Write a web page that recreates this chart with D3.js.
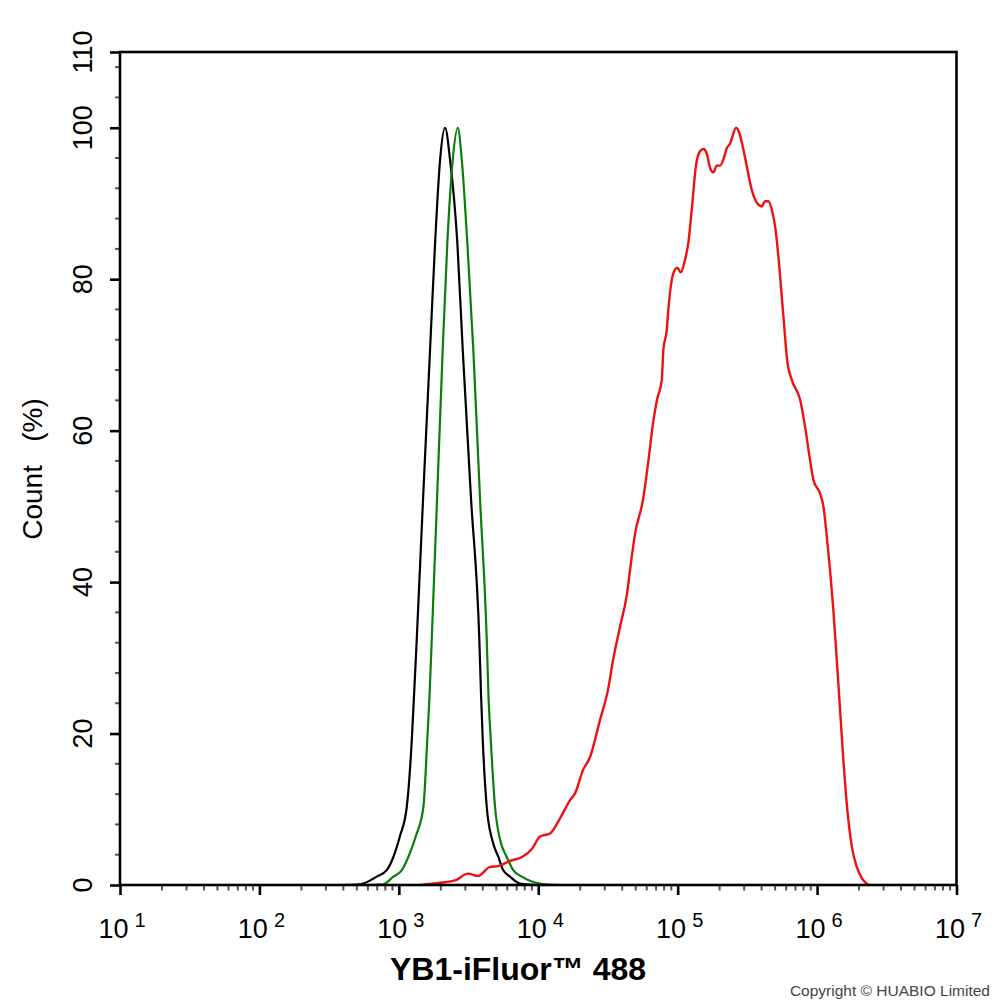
<!DOCTYPE html>
<html>
<head>
<meta charset="utf-8">
<script src="https://cdn.jsdelivr.net/npm/d3@7/dist/d3.min.js"></script>
<style>
  html, body { margin: 0; padding: 0; background: #fff; }
  svg { display: block; }
  text { font-family: Arial, "Liberation Sans", Helvetica, sans-serif; }
</style>
</head>
<body>
<svg id="chart" width="994" height="1002"></svg>
<script>
// ---- Data ----
const blackX = [379, 527, 693, 822, 914, 1020, 1140, 1239, 1285, 1344, 1492, 1675, 1820, 1977, 2145, 2329, 2628, 2872, 3296, 3779, 3890, 3998, 4272, 4667, 5177, 5585, 6280, 7400, 10300];
const blackY = [0, 0.1, 1.1, 2.0, 3.7, 6.5, 10.3, 19.2, 25, 32.4, 51, 70.7, 84.8, 95.8, 100, 95.8, 84.8, 70.7, 51, 32.4, 25, 19.2, 10.3, 6, 3.7, 2, 1.1, 0.2, 0];

const greenX = [527, 771, 914, 1055, 1170, 1327, 1500, 1600, 1660, 1722, 1880, 2064, 2228, 2437, 2648, 2827, 3099, 3421, 3822, 4272, 4395, 4564, 4898, 5321, 5943, 6592, 7621, 10300, 14320];
const greenY = [0, 0.1, 1.1, 2.0, 3.7, 6.5, 10.3, 19.2, 25, 32.4, 51, 70.7, 84.8, 95.8, 100, 95.8, 84.8, 70.7, 51, 32.4, 25, 19.2, 10.3, 6, 3.7, 2, 1.1, 0.2, 0];

const redX = [1420, 1980, 2530, 3140, 3700, 4510, 5150, 6280, 7650, 9030, 10300, 12150, 14330, 16910, 18370, 20960, 23530, 27750, 31670, 34400, 38620, 43350, 45550, 49490, 56460, 61350, 66600, 71160, 76910, 78980, 83520, 85760, 93160, 99520, 105250, 113000, 119300, 126200, 135500, 144800, 152900, 161700, 170800, 180400, 190800, 201500, 212800, 225000, 237600, 262400, 277100, 293100, 313100, 340100, 369400, 401100, 423600, 447400, 473200, 499700, 527800, 558200, 589300, 609200, 658500, 755100, 820300, 890700, 940800, 1051000, 1110000, 1174000, 1240000, 1309000, 1385000, 1462000, 1544000, 1649000, 1774000, 1927000, 2093000, 2333000];
const redY = [0, 0.3, 0.6, 1.5, 1.2, 2.4, 2.5, 3.2, 3.7, 4.8, 6.4, 6.8, 8.8, 11.2, 12.1, 15.2, 16.9, 21.8, 25.8, 29.7, 34.1, 38.5, 41.6, 46.4, 50.9, 55.7, 61.0, 64.1, 66.7, 70.7, 73.3, 76.0, 80.8, 81.5, 80.9, 82.6, 84.8, 89.2, 95.1, 96.9, 97.2, 96.6, 94.7, 94.1, 95.0, 95.0, 95.8, 97.3, 97.9, 100, 99.3, 97.5, 94.9, 91.8, 90.1, 89.6, 90.3, 90.3, 89.2, 87.0, 83.0, 77.7, 72.4, 69.4, 66.7, 64.1, 60.5, 56.1, 53.5, 51.7, 50.0, 46.0, 41.5, 36.3, 29.7, 23.1, 16.5, 9.9, 5.1, 2.4, 0.9, 0];

const xTickExponents = [1, 2, 3, 4, 5, 6, 7];
const yTickValues = [0, 20, 40, 60, 80, 100, 110];
const xTitle = "YB1-iFluor\u2122 488";
const yTitle = "Count   (%)";
const copyright = "Copyright \u00A9 HUABIO Limited";

// ---- Layout ----
const svg = d3.select("#chart");
const x = d3.scaleLog().domain([1e1, 1e7]).range([120, 956.5]);
const y = d3.scaleLinear().domain([0, 110]).range([885, 52]);

const series = [
  { xs: blackX, ys: blackY, color: "#000000", w: 2.2 },
  { xs: greenX, ys: greenY, color: "#0b7d0b", w: 2.2 },
  { xs: redX, ys: redY, color: "#ee1111", w: 2.4 }
];

const line = d3.line()
  .x(d => x(d[0]))
  .y(d => y(d[1]))
  .curve(d3.curveMonotoneX);

const plot = svg.append("g");
series.forEach(s => {
  plot.append("path")
    .datum(d3.zip(s.xs, s.ys))
    .attr("d", line)
    .attr("fill", "none")
    .attr("stroke", s.color)
    .attr("stroke-width", s.w)
    .attr("stroke-linejoin", "round");
});

// ---- Minor ticks ----
const minorX = [];
for (let e = 1; e < 7; e++) for (let m = 2; m <= 9; m++) minorX.push(m * Math.pow(10, e));
svg.append("g").selectAll("line").data(minorX).join("line")
  .attr("x1", d => x(d)).attr("x2", d => x(d))
  .attr("y1", y(0)).attr("y2", y(0) + 5.5)
  .attr("stroke", "#555").attr("stroke-width", 2);

const minorY = d3.range(4, 110, 4).filter(v => v % 20 !== 0);
svg.append("g").selectAll("line").data(minorY).join("line")
  .attr("x1", x(10) - 5).attr("x2", x(10))
  .attr("y1", d => y(d)).attr("y2", d => y(d))
  .attr("stroke", "#555").attr("stroke-width", 2);

// ---- Axes ----
const xAxis = d3.axisBottom(x)
  .tickValues(xTickExponents.map(e => Math.pow(10, e)))
  .tickSize(10).tickFormat("");
svg.append("g").attr("transform", `translate(0,${y(0)})`).call(xAxis)
  .call(g => g.select(".domain").remove())
  .call(g => g.selectAll(".tick line").attr("stroke", "#000").attr("stroke-width", 2.6));

const yAxis = d3.axisLeft(y).tickValues(yTickValues).tickSize(10).tickFormat("");
svg.append("g").attr("transform", `translate(${x(10)},0)`).call(yAxis)
  .call(g => g.select(".domain").remove())
  .call(g => g.selectAll(".tick line").attr("stroke", "#000").attr("stroke-width", 2.6));

// frame
svg.append("rect")
  .attr("x", x(10)).attr("y", y(110))
  .attr("width", x(1e7) - x(10)).attr("height", y(0) - y(110))
  .attr("fill", "none").attr("stroke", "#000").attr("stroke-width", 2.6);

// ---- Tick labels ----
const xl = svg.append("g");
xTickExponents.forEach(e => {
  const t = xl.append("text")
    .attr("x", x(Math.pow(10, e)) + 2)
    .attr("y", 938)
    .attr("text-anchor", "middle")
    .attr("fill", "#000");
  t.append("tspan").attr("font-size", 27).text("10");
  t.append("tspan").attr("font-size", 20).attr("dx", 6).attr("dy", -11).text(String(e));
});

svg.append("g").selectAll("text").data(yTickValues).join("text")
  .attr("transform", d => `translate(92,${y(d)}) rotate(-90)`)
  .attr("text-anchor", "middle")
  .attr("font-size", 27)
  .attr("fill", "#000")
  .text(d => d);

// ---- Titles ----
svg.append("text")
  .attr("x", 518).attr("y", 980)
  .attr("text-anchor", "middle")
  .attr("font-size", 32).attr("font-weight", "bold")
  .attr("fill", "#000")
  .text(xTitle);

svg.append("text")
  .attr("transform", "translate(41.5,469) rotate(-90)")
  .attr("text-anchor", "middle")
  .attr("font-size", 28)
  .style("white-space", "pre")
  .attr("fill", "#000")
  .text(yTitle);

svg.append("text")
  .attr("x", 990).attr("y", 996)
  .attr("text-anchor", "end")
  .attr("font-size", 15.5)
  .attr("fill", "#444")
  .text(copyright);
</script>
</body>
</html>
